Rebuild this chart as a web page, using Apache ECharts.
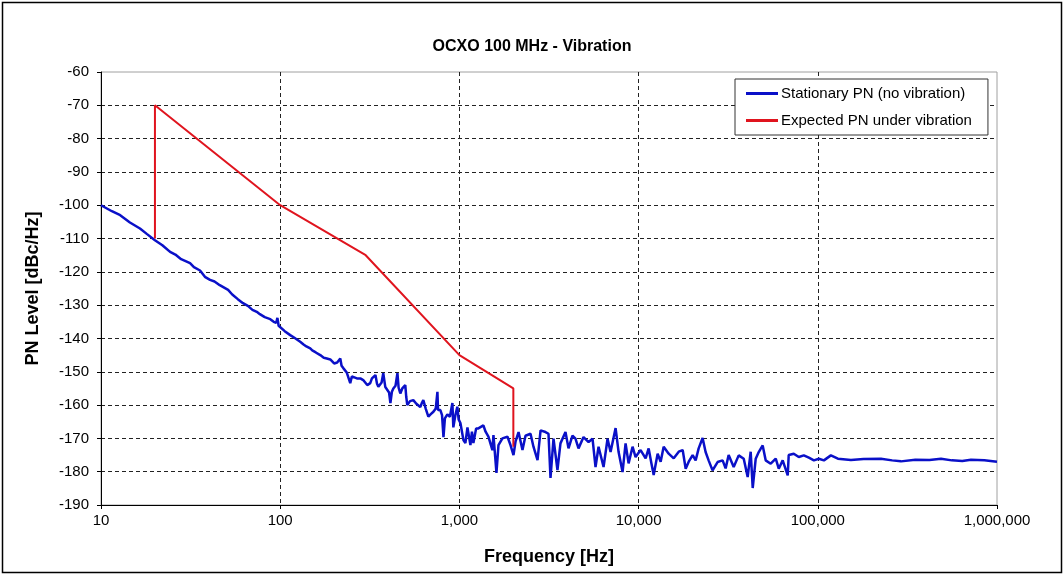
<!DOCTYPE html>
<html>
<head>
<meta charset="utf-8">
<script src="https://cdn.jsdelivr.net/npm/echarts@6/dist/echarts.min.js"></script>
<style>
  html, body { margin: 0; padding: 0; background: #fff; }
  #main { width: 1064px; height: 575px; }
</style>
</head>
<body>
<div id="main"></div>
<script>
// phase noise data, frequency in Hz, level in dBc/Hz
var stationaryFreq = [
  10, 11.5, 12.8, 14.5, 16.5, 18, 20, 22, 24.3, 26, 28, 31.4, 33, 35.7, 38, 40.6, 43, 46, 51.2, 54,
  58, 62, 66, 70, 74, 77, 82, 88, 92, 95, 96.5, 98, 100, 106, 113.7, 120, 129.3, 135, 140, 147.1,
  151, 158, 167.3, 175, 182, 190.3, 200, 208, 216.4, 220, 224.9, 235, 246, 251, 256, 268, 280, 292, 306, 318,
  325, 340, 347, 353, 368, 376, 386, 396, 405, 412, 420, 428, 440, 451, 458, 468, 480, 499, 505, 512,
  530, 553, 575, 605, 618, 629, 650, 671, 690, 716, 738, 754, 760, 783, 800, 815, 830, 857, 885, 914,
  925, 950, 974, 990, 1013, 1053, 1080, 1109, 1152, 1175, 1197, 1240, 1276, 1361, 1400, 1452, 1528, 1549, 1610, 1652,
  1738, 1855, 1928, 2004, 2056, 2138, 2249, 2338, 2494, 2590, 2729, 2837, 3023, 3142, 3224, 3351, 3525, 3664, 3909, 4063,
  4275, 4444, 4620, 4928, 5258, 5532, 5750, 5977, 6375, 6710, 6975, 7441, 7734, 8138, 8460, 8794, 9253, 9618, 10260, 10945,
  11377, 11800, 12137, 12770, 13274, 13798, 14720, 15703, 16751, 17618, 18313, 19037, 20023, 20814, 21635, 22757, 23655, 24589, 25863, 27590,
  29433, 30595, 31803, 33928, 36194, 38612, 40613, 42217, 43329, 45039, 46817, 49243, 51187, 54606, 58254, 60553, 63690, 67945, 68820, 73417,
  78322, 83555, 89137, 95092, 101400, 108170, 118290, 129450, 153000, 180000, 225000, 260000, 291000, 350000, 420000, 487000, 560000, 640000, 716000, 850000,
  1000000
];
var stationaryLevel = [
  -100, -101.8, -103, -105.2, -107, -108.6, -110.5, -112, -114, -114.8, -116.2, -117.4, -118.6, -119.6, -121.5, -122.4, -122.9, -124, -125.4, -126.8,
  -128.2, -129.4, -130.2, -131.4, -132, -132.7, -133.6, -134.2, -135, -135.3, -133.8, -136.2, -136.6, -137.8, -139, -139.8, -141, -141.8, -142.4, -143,
  -143.6, -144.2, -145, -145.8, -146, -146.3, -147.5, -147.2, -146, -148.2, -148.9, -150.2, -153.4, -151.4, -151, -152, -152, -152.6, -154, -153.4,
  -152, -151, -153.6, -154.5, -153.2, -150.4, -154.6, -155, -156.2, -159.4, -156, -155, -154.2, -150.4, -154.8, -156.5, -155, -154, -157.5, -160,
  -158.8, -158.5, -159.6, -160.6, -159.3, -158.5, -161.2, -163.5, -162.8, -162, -161, -156, -161.5, -161.5, -163, -169.6, -164, -162.8, -163.5, -159.4,
  -166.7, -163, -160.5, -164.3, -165.4, -170.5, -171.4, -166.7, -172, -168, -171.4, -167, -167, -166.1, -168, -169.5, -173.5, -169, -180.4, -172,
  -170, -169.5, -172, -175, -171, -168.1, -173.5, -169.2, -168.6, -172.5, -176.5, -167.6, -168.1, -168.6, -181.9, -170.1, -179.5, -171.5, -168.1, -173,
  -169.2, -170.1, -173, -169.6, -171.1, -170.1, -178.6, -172.5, -178.6, -170.1, -174.1, -166.9, -174.1, -180.1, -171.5, -177.5, -172.5, -175.6, -173.5, -176,
  -173, -177.6, -181, -174.6, -177, -172.5, -174.6, -176, -174, -173.5, -179.1, -177, -175, -176.6, -173, -169.9, -174.1, -176.6, -179.6, -177.1,
  -176.6, -179, -175, -178.6, -175.1, -176.1, -181.6, -174, -184.9, -176.1, -174.1, -172.1, -176.6, -177.6, -176.1, -179.1, -176.6, -181.1, -175, -174.6,
  -175.6, -175.1, -175.8, -176.6, -176.1, -176.6, -175.1, -176.1, -176.5, -176.2, -176.1, -176.6, -176.9, -176.4, -176.5, -176.1, -176.6, -176.8, -176.4, -176.6,
  -177
];
var vibrationFreq = [20, 20, 100, 300, 1000, 2000, 2000];
var vibrationLevel = [-110, -70, -100, -115, -145, -155, -172.5];

var seriesNames = ['Stationary PN (no vibration)', 'Expected PN under vibration'];

function pairs(xs, ys) {
  var out = [];
  for (var i = 0; i < xs.length; i++) out.push([xs[i], ys[i]]);
  return out;
}

var chart = echarts.init(document.getElementById('main'));
var dash = { color: '#222', type: [4, 3], width: 1 };
var font = 'Liberation Sans, Arial, sans-serif';

chart.setOption({
  animation: false,
  backgroundColor: '#fff',
  textStyle: { fontFamily: font },
  title: {
    text: 'OCXO 100 MHz - Vibration',
    left: 'center',
    top: 34,
    textStyle: { fontSize: 16, fontWeight: 'bold', color: '#000', fontFamily: font }
  },
  legend: {
    data: seriesNames,
    orient: 'vertical',
    left: 735,
    top: 79,
    padding: [7, 16, 7, 11],
    itemGap: 12,
    itemWidth: 32,
    itemHeight: 3,
    icon: 'rect',
    backgroundColor: '#fff',
    borderColor: '#333',
    borderWidth: 1,
    borderRadius: 0,
    textStyle: { fontSize: 15, color: '#000', fontFamily: font, padding: [0, 0, 0, -2] }
  },
  grid: {
    left: 101, right: 67, top: 72, bottom: 70,
    show: true, borderColor: '#a0a0a0', borderWidth: 1, backgroundColor: '#fff'
  },
  xAxis: {
    type: 'log',
    logBase: 10,
    min: 10,
    max: 1000000,
    name: 'Frequency [Hz]',
    nameLocation: 'middle',
    nameGap: 43,
    nameTextStyle: { fontSize: 18, fontWeight: 'bold', color: '#000' },
    axisLine: { show: true, lineStyle: { color: '#000', width: 1 } },
    axisTick: { show: true, length: 4, lineStyle: { color: '#000' } },
    minorTick: { show: false },
    axisLabel: {
      color: '#000', fontSize: 15, margin: 8,
      formatter: function (v) { return Number(v).toLocaleString('en-US'); }
    },
    splitLine: { show: true, showMinLine: false, showMaxLine: false, lineStyle: dash }
  },
  yAxis: {
    type: 'value',
    min: -190,
    max: -60,
    interval: 10,
    name: 'PN Level [dBc/Hz]',
    nameLocation: 'middle',
    nameGap: 59,
    nameTextStyle: { fontSize: 18, fontWeight: 'bold', color: '#000' },
    axisLine: { show: true, lineStyle: { color: '#000', width: 1 } },
    axisTick: { show: true, length: 4, lineStyle: { color: '#000' } },
    axisLabel: { color: '#000', fontSize: 15, margin: 12 },
    splitLine: { show: true, showMinLine: false, showMaxLine: false, lineStyle: dash }
  },
  graphic: [{
    type: 'rect',
    shape: { x: 2.5, y: 2.5, width: 1059, height: 570 },
    style: { fill: null, stroke: '#000', lineWidth: 1.5 },
    silent: true
  }],
  series: [{
    name: seriesNames[0],
    type: 'line',
    data: pairs(stationaryFreq, stationaryLevel),
    showSymbol: false,
    color: '#0a10c8',
    lineStyle: { color: '#0a10c8', width: 2.5 }
  }, {
    name: seriesNames[1],
    type: 'line',
    data: pairs(vibrationFreq, vibrationLevel),
    showSymbol: false,
    color: '#e0141e',
    lineStyle: { color: '#e0141e', width: 2 }
  }]
});
</script>
</body>
</html>
